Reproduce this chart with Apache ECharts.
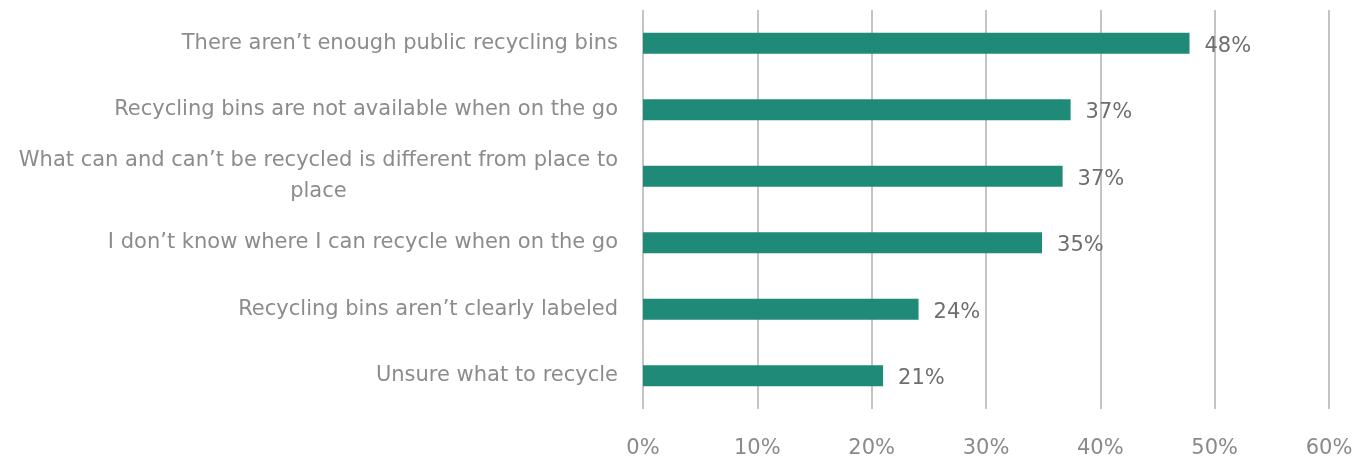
<!DOCTYPE html>
<html>
<head>
<meta charset="utf-8">
<script src="https://cdn.jsdelivr.net/npm/echarts@6/dist/echarts.min.js"></script>
<style>
  html, body { margin: 0; padding: 0; background: #ffffff; }
  #chart { width: 1368px; height: 464px; }
</style>
</head>
<body>
<div id="chart"></div>
<script>
// Reasons people give for not recycling (share of respondents)
const categories = [
  'There aren\u2019t enough public recycling bins',
  'Recycling bins are not available when on the go',
  'What can and can\u2019t be recycled is different from place to\nplace',
  'I don\u2019t know where I can recycle when on the go',
  'Recycling bins aren\u2019t clearly labeled',
  'Unsure what to recycle'
];
const shares = [47.8, 37.4, 36.7, 34.9, 24.1, 21.0];
const axisTicks = [0, 10, 20, 30, 40, 50, 60];

const FONT = '"DejaVu Sans"';
const chart = echarts.init(document.getElementById('chart'));

chart.setOption({
  animation: false,
  grid: { left: 643, right: 39, top: 10, bottom: 55 },
  xAxis: {
    type: 'value',
    min: axisTicks[0],
    max: axisTicks[axisTicks.length - 1],
    interval: 10,
    axisLine: { show: false },
    axisTick: { show: false },
    splitLine: { lineStyle: { color: '#c4c4c4', width: 2 } },
    axisLabel: {
      margin: 29,
      fontFamily: FONT,
      fontSize: 21,
      color: '#8a8a8a',
      formatter: v => v + '%'
    }
  },
  yAxis: {
    type: 'category',
    inverse: true,
    data: categories,
    axisLine: { show: false },
    axisTick: { show: false },
    axisLabel: {
      margin: 25,
      fontFamily: FONT,
      fontSize: 21,
      color: '#8c8c8c',
      align: 'right',
      formatter: v => v.split('\n').map(s => '{c|' + s + '}').join('\n'),
      rich: {
        c: { align: 'center', fontFamily: FONT, fontSize: 21, color: '#8c8c8c', lineHeight: 31 }
      }
    }
  },
  series: [{
    type: 'bar',
    data: shares,
    barWidth: 21,
    itemStyle: { color: '#1f8a78' },
    label: {
      show: true,
      position: 'right',
      distance: 15,
      offset: [0, 3],
      fontFamily: FONT,
      fontSize: 21,
      color: '#6e6e6e',
      formatter: p => Math.round(p.value) + '%'
    }
  }]
});
</script>
</body>
</html>
